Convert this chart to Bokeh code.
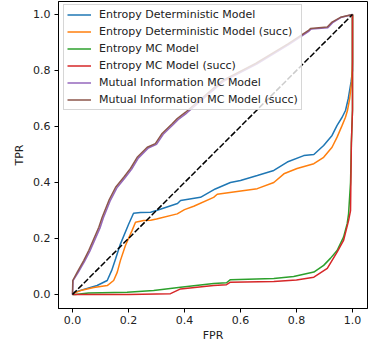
from bokeh.plotting import figure
from bokeh.models import Range1d, FixedTicker, PrintfTickFormatter, Legend, LegendItem
from bokeh.embed import file_html
from bokeh.resources import INLINE

# ---- data ----
ent_det_fpr = [0, 0.005, 0.046, 0.088, 0.124, 0.14, 0.154, 0.171, 0.2, 0.218, 0.243, 0.279, 0.30,
               0.375, 0.386, 0.457, 0.51, 0.564, 0.60, 0.66, 0.719, 0.767, 0.826, 0.862, 0.897,
               0.927, 0.945, 0.963, 0.975, 0.985, 0.995, 1.0, 1.0]
ent_det_tpr = [0, 0.007, 0.02, 0.032, 0.05, 0.086, 0.128, 0.18, 0.25, 0.29, 0.293, 0.294, 0.30,
               0.325, 0.336, 0.347, 0.377, 0.40, 0.407, 0.425, 0.443, 0.473, 0.496, 0.5, 0.532,
               0.568, 0.604, 0.633, 0.657, 0.70, 0.76, 0.80, 1.0]

ent_det_succ_fpr = [0, 0.005, 0.029, 0.076, 0.124, 0.147, 0.16, 0.171, 0.189, 0.213, 0.225, 0.254,
                    0.279, 0.30, 0.374, 0.40, 0.433, 0.504, 0.517, 0.575, 0.66, 0.719, 0.755,
                    0.802, 0.862, 0.897, 0.927, 0.945, 0.963, 0.975, 0.982, 0.99, 0.997, 1.0, 1.0]
ent_det_succ_tpr = [0, 0.005, 0.014, 0.025, 0.032, 0.05, 0.08, 0.121, 0.175, 0.229, 0.258, 0.264,
                    0.265, 0.27, 0.288, 0.303, 0.315, 0.347, 0.358, 0.366, 0.378, 0.40, 0.431,
                    0.45, 0.467, 0.49, 0.526, 0.562, 0.604, 0.633, 0.657, 0.70, 0.76, 0.83, 1.0]

ent_mc_fpr = [0, 0.01, 0.057, 0.195, 0.29, 0.386, 0.504, 0.55, 0.564, 0.719, 0.79, 0.862, 0.897,
              0.921, 0.945, 0.968, 0.981, 0.986, 0.993, 0.996, 1.0, 1.0]
ent_mc_tpr = [0, 0.0, 0.005, 0.008, 0.014, 0.026, 0.039, 0.042, 0.053, 0.057, 0.064, 0.08, 0.104,
              0.129, 0.157, 0.205, 0.253, 0.288, 0.40, 0.54, 0.66, 1.0]

ent_mc_succ_fpr = [0, 0.2, 0.35, 0.386, 0.504, 0.55, 0.564, 0.719, 0.80, 0.862, 0.91, 0.945,
                   0.968, 0.986, 0.993, 0.996, 1.0, 1.0]
ent_mc_succ_tpr = [0, 0.0, 0.003, 0.02, 0.032, 0.035, 0.044, 0.046, 0.052, 0.062, 0.093, 0.151,
                   0.193, 0.264, 0.30, 0.54, 0.657, 1.0]

mi_mc_fpr = [0, 0.002, 0.02, 0.043, 0.062, 0.098, 0.11, 0.134, 0.158, 0.187, 0.211, 0.235, 0.271,
             0.30, 0.324, 0.36, 0.378, 0.408, 0.54, 0.658, 0.775, 0.845, 0.853, 0.912, 0.929,
             0.958, 1.0]
mi_mc_tpr = [0, 0.05, 0.078, 0.118, 0.155, 0.237, 0.273, 0.333, 0.38, 0.416, 0.447, 0.487, 0.523,
             0.536, 0.572, 0.607, 0.625, 0.648, 0.762, 0.823, 0.894, 0.941, 0.948, 0.953, 0.971,
             0.989, 1.0]

mi_mc_succ_fpr = [0, 0.001, 0.017, 0.04, 0.058, 0.094, 0.106, 0.13, 0.154, 0.183, 0.207, 0.231,
                  0.267, 0.296, 0.32, 0.356, 0.374, 0.404, 0.535, 0.654, 0.771, 0.843, 0.85,
                  0.91, 0.927, 0.957, 1.0]
mi_mc_succ_tpr = [0, 0.05, 0.08, 0.121, 0.157, 0.24, 0.276, 0.336, 0.383, 0.419, 0.45, 0.49,
                  0.526, 0.539, 0.575, 0.61, 0.628, 0.651, 0.764, 0.825, 0.896, 0.943, 0.95,
                  0.955, 0.973, 0.99, 1.0]

labels = ["Entropy Deterministic Model", "Entropy Deterministic Model (succ)",
          "Entropy MC Model", "Entropy MC Model (succ)",
          "Mutual Information MC Model", "Mutual Information MC Model (succ)"]
colors = ["#1f77b4", "#ff7f0e", "#2ca02c", "#d62728", "#9467bd", "#8c564b"]
series = [(ent_det_fpr, ent_det_tpr), (ent_det_succ_fpr, ent_det_succ_tpr),
          (ent_mc_fpr, ent_mc_tpr), (ent_mc_succ_fpr, ent_mc_succ_tpr),
          (mi_mc_fpr, mi_mc_tpr), (mi_mc_succ_fpr, mi_mc_succ_tpr)]
ticks = [0.0, 0.2, 0.4, 0.6, 0.8, 1.0]
chance = [0.0, 1.0]

FONT = "DejaVu Sans"
FS = "11px"

p = figure(width=368, height=349, output_backend="svg", toolbar_location=None,
           x_range=Range1d(-0.05, 1.0536), y_range=Range1d(-0.05, 1.0464),
           min_border_left=58, min_border_right=1, min_border_top=1, min_border_bottom=41)
p.background_fill_color = "white"
p.border_fill_color = "white"
p.outline_line_color = "black"
p.outline_line_width = 1
p.xgrid.visible = False
p.ygrid.visible = False

for ax in (p.xaxis[0], p.yaxis[0]):
    ax.ticker = FixedTicker(ticks=ticks)
    ax.formatter = PrintfTickFormatter(format="%.1f")
    ax.minor_tick_line_color = None
    ax.major_tick_in = 0
    ax.major_tick_out = 4
    ax.axis_line_color = "black"
    ax.major_tick_line_color = "black"
    ax.major_label_text_font = FONT
    ax.major_label_text_font_size = FS
    ax.major_label_text_color = "#222222"
    ax.axis_label_text_font = FONT
    ax.axis_label_text_font_size = FS
    ax.axis_label_text_font_style = "normal"
    ax.axis_label_text_color = "#222222"
p.xaxis.axis_label = "FPR"
p.yaxis.axis_label = "TPR"
p.xaxis.major_label_standoff = 3
p.xaxis.axis_label_standoff = 2
p.yaxis.major_label_standoff = 4
p.yaxis.axis_label_standoff = 4

items = []
for (fx, ty), lab, col in zip(series, labels, colors):
    r = p.line(fx, ty, line_color=col, line_width=1.5)
    items.append(LegendItem(label=lab, renderers=[r]))

p.line(chance, chance, line_color="black", line_width=1.5, line_dash="6 2")

legend = Legend(items=items, location=(5, 198))
legend.label_text_font = FONT
legend.label_text_font_size = FS
legend.label_text_color = "#222222"
legend.glyph_width = 24
legend.glyph_height = 13
legend.label_height = 13
legend.spacing = 4
legend.padding = 3
legend.margin = 0
legend.label_standoff = 8
legend.border_line_color = "#cccccc"
legend.border_line_alpha = 0.8
legend.background_fill_alpha = 0.8
p.add_layout(legend, "center")

open("out.html", "w").write(file_html(p, INLINE))
